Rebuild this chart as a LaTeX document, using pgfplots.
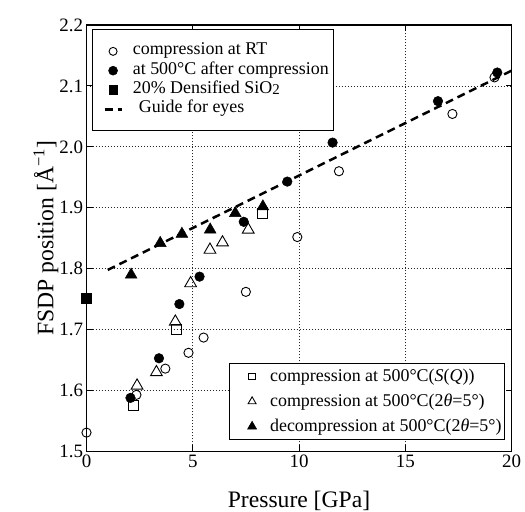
\documentclass[border=0pt]{standalone}
\usepackage{pgfplots}
\pgfplotsset{compat=1.18}
\usepackage{fontspec}
\setmainfont{Liberation Serif}
\begin{document}
\begin{tikzpicture}
\useasboundingbox (-86.5bp,-60.5bp) rectangle (438.5bp,451.5bp);
\pgfplotsset{
  common/.style={
    scale only axis, width=425bp, height=426.5bp,
    xmin=0, xmax=20, ymin=1.5, ymax=2.2,
    at={(0,0)}, anchor=south west,
    legend cell align=left,
  },
  openmark/.style={only marks, mark options={line width=0.9bp, fill=white, draw=black}},
  fillmark/.style={only marks, mark options={line width=0.5bp, fill=black, draw=black}},
  widemarkA/.style={legend image code/.code={%
    \path[draw=none,fill=none] (-7bp,-1bp) rectangle (17bp,1bp);
    \draw[##1] plot coordinates {(8.5bp,0bp)};}},
  widemarkB/.style={legend image code/.code={%
    \path[draw=none,fill=none] (-11.5bp,-1bp) rectangle (17bp,1bp);
    \draw[##1] plot coordinates {(8.5bp,0bp)};}},
  wideline/.style={legend image code/.code={%
    \path[draw=none,fill=none] (-7bp,-1bp) rectangle (17bp,1bp);
    \draw[##1] (0bp,0bp) -- (17bp,0bp);}},
}
\begin{axis}[common,
  axis line style={line width=1.2bp},
  xtick={0,5,10,15,20}, xticklabels={0,5,10,15,20},
  ytick={1.5,1.6,1.7,1.8,1.9,2.0,2.1,2.2},
  yticklabels={1.5,1.6,1.7,1.8,1.9,2.0,2.1,2.2},
  tick align=inside, major tick length=6bp,
  tick style={line width=1bp, black},
  grid=major,
  major grid style={line width=0.8bp, black!85, dash pattern=on 1bp off 2bp},
  ticklabel style={font=\fontsize{19}{22}\selectfont},
  xlabel={Pressure [GPa]},
  ylabel={FSDP position [Å\textsuperscript{−1}]},
  label style={font=\fontsize{23.7}{27}\selectfont},
  xlabel style={yshift=-16bp},
  ylabel style={yshift=-6bp},
  legend style={at={(0.013,0.99)}, anchor=north west, draw=black, line width=1.1bp,
    font=\fontsize{18}{21}\selectfont, inner xsep=5bp, inner ysep=11.9bp, row sep=0bp,
    column sep=10bp,
    nodes={text height=13.15bp, text depth=6.15bp, inner ysep=0bp, inner xsep=0bp, outer sep=0bp}},
]
\addlegendimage{openmark, mark=o, mark size=4bp, widemarkA}
\addlegendentry{compression at RT}
\addlegendimage{fillmark, mark=*, mark size=4.5bp, widemarkA}
\addlegendentry{at 500°C after compression}
\addlegendimage{fillmark, mark=square*, mark size=4.3bp, widemarkA}
\addlegendentry{20\% Densified SiO\raisebox{-1bp}{\fontsize{15}{15}\selectfont 2}}
\addlegendimage{line width=2.5bp, dash pattern=on 8bp off 5bp, wideline}
\addlegendentry{\hspace*{6bp}Guide for eyes}

\addplot[forget plot, line width=2.5bp, dash pattern=on 8bp off 5bp] coordinates {(1.0,1.798) (20,2.125)};

\addplot[forget plot, openmark, mark=o, mark size=4.6bp] coordinates {
(0,1.531) (2.35,1.593) (3.71,1.636) (4.80,1.662) (5.51,1.687) (7.50,1.762)
(9.92,1.852) (11.88,1.960) (17.22,2.054) (19.20,2.114)};
\addplot[forget plot, fillmark, mark=*, mark size=4.8bp] coordinates {
(2.07,1.588) (3.41,1.653) (4.37,1.742) (5.32,1.787) (7.40,1.877) (9.45,1.943)
(11.58,2.007) (16.54,2.075) (19.33,2.122)};
\addplot[forget plot, fillmark, mark=square*, mark size=5bp] coordinates {(0,1.752)};
\addplot[forget plot, openmark, mark=square, mark size=5bp] coordinates {
(2.19,1.575) (4.21,1.700) (8.30,1.890)};
\addplot[forget plot, openmark, mark=triangle, mark size=6.8bp] coordinates {
(2.38,1.608) (3.29,1.630) (4.18,1.713) (4.90,1.776) (5.81,1.831) (6.40,1.843) (7.61,1.864)};
\addplot[forget plot, fillmark, mark=triangle*, mark size=6.8bp] coordinates {
(2.10,1.790) (3.47,1.842) (4.49,1.857) (5.82,1.864) (7.00,1.891) (8.30,1.902)};
\end{axis}

\begin{axis}[common, hide axis,
  legend style={at={(0.985,0.027)}, anchor=south east, draw=black, line width=1.1bp,
    font=\fontsize{18}{21}\selectfont, inner xsep=3bp, inner ysep=0.5bp, row sep=0bp,
    column sep=9.5bp,
    nodes={text height=18bp, text depth=7bp, inner ysep=0bp, inner xsep=0bp, outer sep=0bp}},
]
\addplot[draw=none, forget plot] coordinates {(10,1.8)};
\addlegendimage{openmark, mark=square, mark size=3.4bp, widemarkB}
\addlegendentry{compression at 500°C(\textit{S}(\textit{Q}))}
\addlegendimage{openmark, mark=triangle, mark size=4.6bp, widemarkB}
\addlegendentry{compression at 500°C(2\textit{θ}=5°)}
\addlegendimage{fillmark, mark=triangle*, mark size=5.2bp, widemarkB}
\addlegendentry{decompression at 500°C(2\textit{θ}=5°)}
\end{axis}
\end{tikzpicture}
\end{document}
